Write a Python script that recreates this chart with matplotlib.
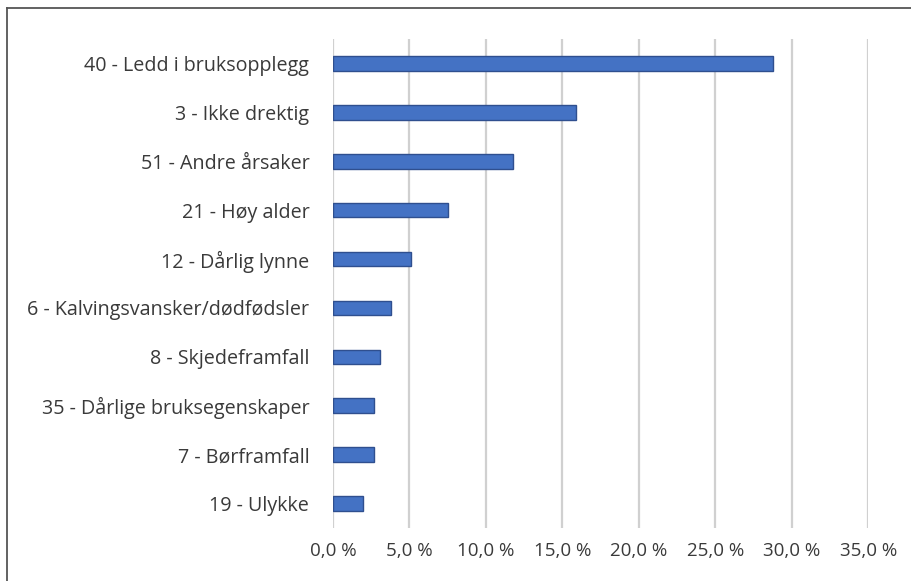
import matplotlib.pyplot as plt
from matplotlib.lines import Line2D
from matplotlib.ticker import FuncFormatter

categories = [
    "40 - Ledd i bruksopplegg",
    "3 - Ikke drektig",
    "51 - Andre årsaker",
    "21 - Høy alder",
    "12 - Dårlig lynne",
    "6 - Kalvingsvansker/dødfødsler",
    "8 - Skjedeframfall",
    "35 - Dårlige bruksegenskaper",
    "7 - Børframfall",
    "19 - Ulykke",
]
shares = [28.8, 15.9, 11.8, 7.5, 5.1, 3.8, 3.1, 2.7, 2.7, 2.0]
x_ticks = [0, 5, 10, 15, 20, 25, 30, 35]

plt.rcParams["font.family"] = ["Open Sans", "DejaVu Sans"]
fig = plt.figure(figsize=(9.12, 5.81), dpi=100)
fig.patch.set_facecolor("white")
ax = fig.add_axes([0.365, 0.091, 0.587, 0.842])

ypos = list(range(len(categories)))
ax.barh(ypos, shares, height=0.3, color="#4472C4", edgecolor="#2F4F8F",
        linewidth=1.0, zorder=3)
ax.set_ylim(len(categories) - 0.5, -0.5)
ax.set_xlim(0, 35)
ax.set_yticks(ypos)
ax.set_yticklabels(categories, fontsize=14.2, color="#3A3A3A")
ax.set_xticks(x_ticks)
ax.xaxis.set_major_formatter(FuncFormatter(lambda v, _: f"{v:.1f} %".replace(".", ",")))
ax.tick_params(axis="x", labelsize=13.5, labelcolor="#3A3A3A", length=0, pad=10)
ax.tick_params(axis="y", length=0, pad=17)
ax.grid(axis="x", color="#D0D0D0", linewidth=1.6, zorder=0)
for s in ax.spines.values():
    s.set_visible(False)

# outer frame: visible on left and top only (right/bottom run off the image)
fig.add_artist(Line2D([7 / 912, 7 / 912], [0, 1 - 8 / 581], transform=fig.transFigure,
                      color="#555555", linewidth=1.3))
fig.add_artist(Line2D([7 / 912, 1], [1 - 8 / 581, 1 - 8 / 581], transform=fig.transFigure,
                      color="#555555", linewidth=1.3))

fig.savefig("out.png", dpi=100, facecolor="white")
